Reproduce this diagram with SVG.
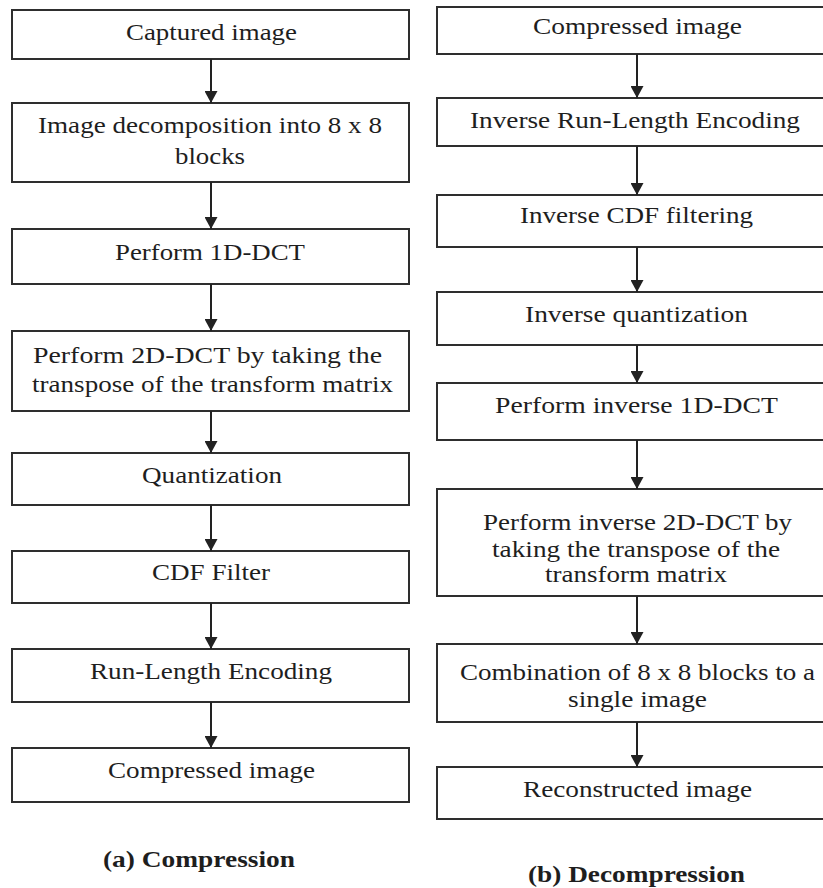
<svg xmlns="http://www.w3.org/2000/svg" width="823" height="888" viewBox="0 0 823 888">
  <style>
    .box { fill: #ffffff; stroke: #2e2e2e; stroke-width: 2; }
    .t { font-family: 'Liberation Serif', serif; font-size: 24px; fill: #1e1e1e; text-anchor: middle; }
    .cap { font-family: 'Liberation Serif', serif; font-size: 23px; font-weight: bold; fill: #1e1e1e; text-anchor: middle; }
    .arrow { stroke: #222222; stroke-width: 2; fill: none; marker-end: url(#head); }
  </style>
  <defs>
    <marker id="head" viewBox="0 0 12 13" refX="12" refY="6.5" markerWidth="12" markerHeight="13" markerUnits="userSpaceOnUse" orient="auto">
      <path d="M0,0 L12,6.5 L0,13 z" fill="#222222"/>
    </marker>
  </defs>
  <rect width="823" height="888" fill="#ffffff"/>

  <!-- (a) Compression pipeline -->
  <g id="captured-image">
    <rect class="box" x="12" y="10" width="397" height="49"/>
    <text class="t" x="211.5" y="40" textLength="171" lengthAdjust="spacingAndGlyphs">Captured image</text>
  </g>
  <g id="decomposition">
    <rect class="box" x="12" y="103" width="397" height="79"/>
    <text class="t" x="210" y="133" textLength="344" lengthAdjust="spacingAndGlyphs">Image decomposition into 8 x 8</text>
    <text class="t" x="210" y="164" textLength="70" lengthAdjust="spacingAndGlyphs">blocks</text>
  </g>
  <g id="dct-1d">
    <rect class="box" x="12" y="229" width="397" height="55"/>
    <text class="t" x="210" y="260" textLength="190" lengthAdjust="spacingAndGlyphs">Perform 1D-DCT</text>
  </g>
  <g id="dct-2d">
    <rect class="box" x="12" y="331" width="397" height="80"/>
    <text class="t" x="207.5" y="363" textLength="349" lengthAdjust="spacingAndGlyphs">Perform 2D-DCT by taking the</text>
    <text class="t" x="212.5" y="392" textLength="361" lengthAdjust="spacingAndGlyphs">transpose of the transform matrix</text>
  </g>
  <g id="quantization">
    <rect class="box" x="12" y="453" width="397" height="52"/>
    <text class="t" x="212" y="483" textLength="140" lengthAdjust="spacingAndGlyphs">Quantization</text>
  </g>
  <g id="cdf-filter">
    <rect class="box" x="12" y="551" width="397" height="52"/>
    <text class="t" x="211" y="580" textLength="118" lengthAdjust="spacingAndGlyphs">CDF Filter</text>
  </g>
  <g id="rle">
    <rect class="box" x="12" y="649" width="397" height="53"/>
    <text class="t" x="211" y="679" textLength="242" lengthAdjust="spacingAndGlyphs">Run-Length Encoding</text>
  </g>
  <g id="compressed-out">
    <rect class="box" x="12" y="748" width="397" height="54"/>
    <text class="t" x="211.5" y="778" textLength="207" lengthAdjust="spacingAndGlyphs">Compressed image</text>
  </g>

  <!-- (b) Decompression pipeline -->
  <g id="compressed-in">
    <rect class="box" x="437" y="7" width="400" height="47"/>
    <text class="t" x="637.5" y="34" textLength="209" lengthAdjust="spacingAndGlyphs">Compressed image</text>
  </g>
  <g id="inverse-rle">
    <rect class="box" x="437" y="98" width="400" height="48"/>
    <text class="t" x="635" y="128" textLength="330" lengthAdjust="spacingAndGlyphs">Inverse Run-Length Encoding</text>
  </g>
  <g id="inverse-cdf">
    <rect class="box" x="437" y="195" width="400" height="52"/>
    <text class="t" x="636.5" y="223" textLength="233" lengthAdjust="spacingAndGlyphs">Inverse CDF filtering</text>
  </g>
  <g id="inverse-quantization">
    <rect class="box" x="437" y="292" width="400" height="53"/>
    <text class="t" x="636.5" y="322" textLength="223" lengthAdjust="spacingAndGlyphs">Inverse quantization</text>
  </g>
  <g id="inverse-dct-1d">
    <rect class="box" x="437" y="383" width="400" height="57"/>
    <text class="t" x="636.5" y="413" textLength="283" lengthAdjust="spacingAndGlyphs">Perform inverse 1D-DCT</text>
  </g>
  <g id="inverse-dct-2d">
    <rect class="box" x="437" y="489" width="400" height="107"/>
    <text class="t" x="637.5" y="530" textLength="309" lengthAdjust="spacingAndGlyphs">Perform inverse 2D-DCT by</text>
    <text class="t" x="636" y="557" textLength="288" lengthAdjust="spacingAndGlyphs">taking the transpose of the</text>
    <text class="t" x="636" y="582" textLength="182" lengthAdjust="spacingAndGlyphs">transform matrix</text>
  </g>
  <g id="combination">
    <rect class="box" x="437" y="644" width="400" height="78"/>
    <text class="t" x="637.5" y="680" textLength="355" lengthAdjust="spacingAndGlyphs">Combination of 8 x 8 blocks to a</text>
    <text class="t" x="637.5" y="707" textLength="139" lengthAdjust="spacingAndGlyphs">single image</text>
  </g>
  <g id="reconstructed">
    <rect class="box" x="437" y="767" width="400" height="52"/>
    <text class="t" x="637.5" y="797" textLength="229" lengthAdjust="spacingAndGlyphs">Reconstructed image</text>
  </g>

  <!-- connectors -->
  <g id="connectors">
    <line class="arrow" x1="211" y1="59" x2="211" y2="103"/>
    <line class="arrow" x1="211" y1="182" x2="211" y2="229"/>
    <line class="arrow" x1="211" y1="284" x2="211" y2="331"/>
    <line class="arrow" x1="211" y1="411" x2="211" y2="453"/>
    <line class="arrow" x1="211" y1="505" x2="211" y2="551"/>
    <line class="arrow" x1="211" y1="603" x2="211" y2="649"/>
    <line class="arrow" x1="211" y1="702" x2="211" y2="748"/>
    <line class="arrow" x1="637" y1="54" x2="637" y2="98"/>
    <line class="arrow" x1="637" y1="146" x2="637" y2="195"/>
    <line class="arrow" x1="637" y1="247" x2="637" y2="292"/>
    <line class="arrow" x1="637" y1="345" x2="637" y2="383"/>
    <line class="arrow" x1="637" y1="440" x2="637" y2="489"/>
    <line class="arrow" x1="637" y1="596" x2="637" y2="644"/>
    <line class="arrow" x1="637" y1="722" x2="637" y2="767"/>
  </g>

  <!-- captions -->
  <text class="cap" x="199" y="867" textLength="192" lengthAdjust="spacingAndGlyphs">(a) Compression</text>
  <text class="cap" x="636.5" y="882" textLength="217" lengthAdjust="spacingAndGlyphs">(b) Decompression</text>
</svg>
